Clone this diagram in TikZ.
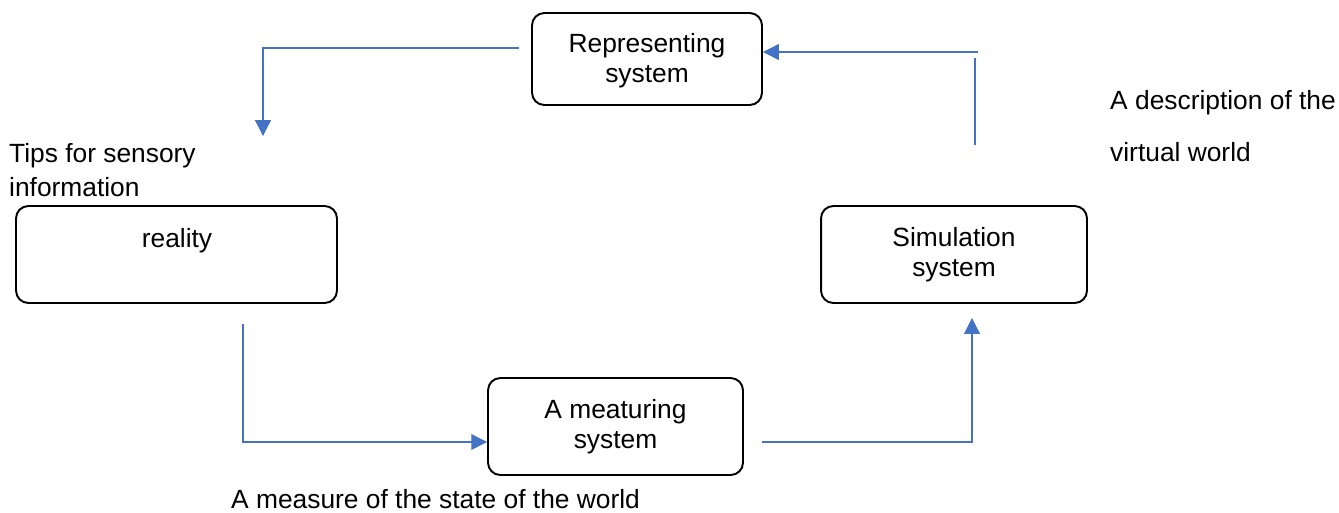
\documentclass[tikz,border=0pt]{standalone}
\usepackage{fontspec}
\setmainfont{Liberation Sans}
\usetikzlibrary{arrows.meta}
\definecolor{linkblue}{HTML}{4472C4}
\begin{document}
\begin{tikzpicture}[x=0.02cm, y=-0.02cm,
    every node/.style={font=\fontsize{15}{17.2}\selectfont},
    sysbox/.style={draw, line width=1.1pt, rounded corners=7pt, align=center, inner sep=0pt},
    link/.style={draw=linkblue, line width=0.7pt},
    tip/.style={-{Triangle[length=9pt, width=9pt]}, link}]

    \useasboundingbox (0,0) rectangle (1339,512);

    % Blocos do sistema
    \node[sysbox, minimum width=4.6cm, minimum height=1.84cm] (rep) at (647,59) {};
    \node[align=center] (reptxt) at (647,61) {Representing\\system};
    \node[sysbox, minimum width=6.42cm, minimum height=1.94cm] (reality) at (176.5,254.5) {};
    \node (realitytxt) at (177,241) {reality};
    \node[sysbox, minimum width=5.32cm, minimum height=1.94cm] (sim) at (954,254.5) {};
    \node[align=center] (simtxt) at (954,255) {Simulation\\system};
    \node[sysbox, minimum width=5.1cm, minimum height=1.94cm] (meas) at (615.5,426.5) {};
    \node[align=center] (meastxt) at (615.5,427) {A meaturing\\system};

    % Textos
    \node[anchor=west, align=left] (tips) at (3,170) {Tips for sensory\\[2pt]information};
    \node[anchor=west, align=left] (desc) at (1104,126) {A description of the\\[12pt]virtual world};
    \node[anchor=west] (measure) at (225,499) {A measure of the state of the world};

    % Pontos livres das ligações
    \coordinate (c1) at (519,48);
    \coordinate (c2) at (263,48);
    \coordinate (c3) at (263,136);
    \coordinate (c4) at (978,52);
    \coordinate (c5) at (975,145);
    \coordinate (c6) at (975,58);
    \coordinate (c7) at (243,324);
    \coordinate (c8) at (243,442);
    \coordinate (c9) at (762,442);
    \coordinate (c10) at (972,442);
    \coordinate (c11) at (972,318);

    % Ligações
    \draw[tip] (c1) -- (c2) -- (c3);
    \draw[tip] (c4) -- (rep.east |- c4);
    \draw[link] (c5) -- (c6);
    \draw[tip] (c7) -- (c8) -- (meas.west |- c8);
    \draw[tip] (c9) -- (c10) -- (c11);

\end{tikzpicture}
\end{document}
